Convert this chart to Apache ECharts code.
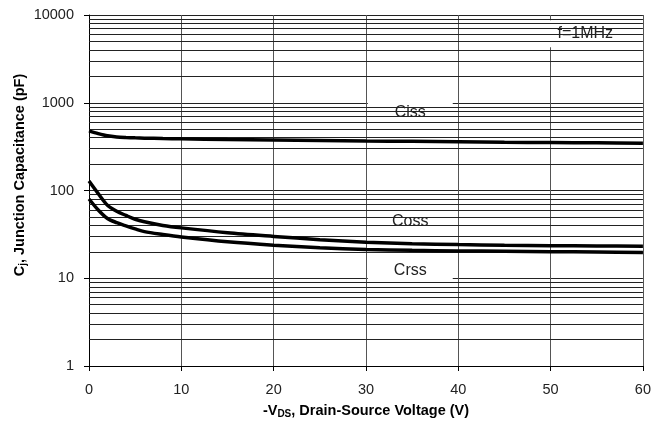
<!DOCTYPE html>
<html>
<head>
<meta charset="utf-8">
<script src="https://cdn.jsdelivr.net/npm/echarts@6/dist/echarts.min.js"></script>
<style>
html,body{margin:0;padding:0;background:#fff;}
#chart{width:654px;height:427px;}
</style>
</head>
<body>
<div id="chart"></div>
<script>
// ---- data ----
const vds  = [0, 1, 2, 3, 4, 5, 6, 8, 10, 15, 20, 25, 30, 35, 40, 45, 50, 55, 60];
const ciss = [478, 445, 420, 408, 402, 398, 395, 391, 388, 382, 377, 372, 367, 363, 359, 355, 352, 349, 346];
const coss = [128, 92, 68, 58, 52, 47, 44, 40, 37.5, 33, 30, 27.5, 25.8, 24.8, 24.2, 23.8, 23.5, 23.3, 23.2];
const crss = [80, 60, 48, 43, 39.5, 36.5, 34, 31.5, 29.5, 26, 23.8, 22.3, 21.3, 20.8, 20.5, 20.3, 20.1, 19.9, 19.7];
const xTicks = [0, 10, 20, 30, 40, 50, 60];
const yDecades = [1, 10, 100, 1000, 10000];
const minorTicks = [2,3,4,5,6,7,8,9, 20,30,40,50,60,70,80,90, 200,300,400,500,600,700,800,900, 2000,3000,4000,5000,6000,7000,8000,9000];
// label boxes: [text, x0, x1, yTop, yBottom]
const labelBoxes = [
  ['Ciss', 30.2, 39.4, 1150, 530],
  ['Coss', 30.2, 39.4, 66, 29],
  ['Crss', 30.2, 39.4, 18, 8.4],
  ['f=1MHz', 48.2, 59.3, 8700, 4300]
];

const pair = (xs, ys) => xs.map((x, i) => [x, ys[i]]);
const curveStyle = { color: '#000', width: 3.5 };
const SANS = '"Liberation Sans", Arial, sans-serif';

const chart = echarts.init(document.getElementById('chart'), null, { renderer: 'canvas' });
chart.setOption({
  animation: false,
  backgroundColor: '#fff',
  grid: { left: 89, right: 9, top: 15, bottom: 61, containLabel: false },
  xAxis: {
    type: 'value', min: xTicks[0], max: xTicks[xTicks.length - 1], interval: 10,
    axisLine: { show: true, lineStyle: { color: '#000', width: 1 } },
    axisTick: { show: true, length: 5, lineStyle: { color: '#000' } },
    axisLabel: { margin: 16, fontFamily: SANS, fontSize: 14.5, color: '#222' },
    splitLine: { show: true, lineStyle: { color: '#555', width: 1 } },
    name: '-V{sub|DS}, Drain-Source Voltage (V)',
    nameLocation: 'middle', nameGap: 37,
    nameTextStyle: {
      fontFamily: SANS, fontWeight: 'bold', fontSize: 14.5, color: '#000',
      rich: {
        sub: { fontFamily: SANS, fontWeight: 'bold', fontSize: 10, color: '#000', padding: [6, 0, 0, 0] }
      }
    }
  },
  yAxis: {
    type: 'log', logBase: 10, min: yDecades[0], max: yDecades[yDecades.length - 1],
    axisLine: { show: true, lineStyle: { color: '#000', width: 1 } },
    axisTick: { show: true, length: 5, lineStyle: { color: '#000' } },
    axisLabel: {
      margin: 15, fontFamily: SANS, fontSize: 14.5, color: '#222',
      formatter: v => String(Math.round(v))
    },
    splitLine: { show: true, lineStyle: { color: '#222', width: 1 } }
  },
  graphic: [{
    type: 'text', x: 20, y: 175, rotation: Math.PI / 2,
    style: {
      text: 'C{sub|j}, Junction Capacitance (pF)',
      fontFamily: SANS, fontWeight: 'bold', fontSize: 14.5, fill: '#000',
      align: 'center', verticalAlign: 'middle',
      rich: { sub: { fontFamily: SANS, fontWeight: 'bold', fontSize: 10, fill: '#000', padding: [6, 0, 0, 0] } }
    }
  }],
  series: [
    {
      type: 'line', data: [], z: 1, silent: true,
      markLine: {
        silent: true, symbol: ['none', 'none'], animation: false,
        label: { show: false },
        lineStyle: { color: '#222', width: 1, type: 'solid' },
        data: minorTicks.map(v => ({ yAxis: v }))
      }
    },
    {
      type: 'line', data: [], z: 2, silent: true,
      markArea: {
        silent: true, animation: false,
        itemStyle: { color: '#fff', borderWidth: 0 },
        label: {
          show: true, position: 'inside', fontFamily: SANS, fontSize: 16, color: '#222'
        },
        data: labelBoxes.map(b => [
          { name: b[0], coord: [b[1], b[3]] },
          { coord: [b[2], b[4]] }
        ])
      }
    },
    { name: 'Ciss', type: 'line', z: 5, data: pair(vds, ciss), smooth: 0.3, showSymbol: false, lineStyle: curveStyle },
    { name: 'Coss', type: 'line', z: 5, data: pair(vds, coss), smooth: 0.3, showSymbol: false, lineStyle: curveStyle },
    { name: 'Crss', type: 'line', z: 5, data: pair(vds, crss), smooth: 0.3, showSymbol: false, lineStyle: curveStyle }
  ]
});
</script>
</body>
</html>
